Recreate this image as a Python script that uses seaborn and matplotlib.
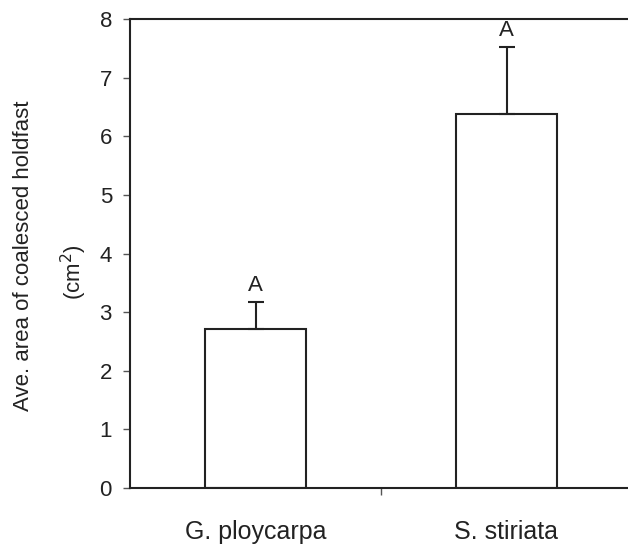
import matplotlib
matplotlib.use("Agg")
import matplotlib.pyplot as plt
import seaborn as sns
import pandas as pd

species = ["G. ploycarpa", "S. stiriata"]
means = [2.71, 6.38]
errors = [0.46, 1.15]
letters = ["A", "A"]
yticks = [0, 1, 2, 3, 4, 5, 6, 7, 8]

sns.set_style("white")
plt.rcParams["font.family"] = ["Liberation Sans", "DejaVu Sans"]

df = pd.DataFrame({"species": species, "mean": means})

fig = plt.figure(figsize=(6.28, 5.48), dpi=100)
ax = fig.add_axes([130/628, 60/548, 502/628, 469/548])

sns.barplot(data=df, x="species", y="mean", ax=ax, color="white",
            edgecolor="#222222", linewidth=1.5, width=0.4, errorbar=None)

ax.errorbar(range(len(species)), means, yerr=[[0]*len(errors), errors],
            fmt="none", ecolor="#222222", elinewidth=1.5, capsize=5.5, capthick=1.5)

for i, (m, e, l) in enumerate(zip(means, errors, letters)):
    ax.text(i, m + e + 0.1, l, ha="center", va="bottom", fontsize=16, color="#222222")

ax.set_ylim(0, 8)
ax.set_xlim(-0.5, 1.5)
ax.set_yticks(yticks)
ax.set_yticklabels([str(t) for t in yticks], fontsize=16, color="#222222")
ax.set_xticks([0, 1])
ax.set_xticklabels(species, fontsize=18, color="#222222")
ax.tick_params(axis="x", length=0, pad=23)
ax.tick_params(axis="y", length=5, width=1, color="#555555", pad=8, left=True)
ax.set_xticks([0.5], minor=True)
ax.tick_params(axis="x", which="minor", length=5, width=1, color="#555555", bottom=True)
ax.set_xlabel("")
ax.set_ylabel("")
fig.text(24/628, 1 - 256/548, "Ave. area of coalesced holdfast", rotation=90,
         ha="center", va="center", fontsize=16, color="#222222")
fig.text(74/628, 1 - 272/548, "(cm$^2$)", rotation=90,
         ha="center", va="center", fontsize=16, color="#222222")

for s in ["left", "top", "bottom"]:
    ax.spines[s].set_visible(True)
    ax.spines[s].set_color("#222222")
    ax.spines[s].set_linewidth(1.5)
ax.spines["right"].set_visible(False)

fig.savefig("out.png", dpi=100, facecolor="white")
